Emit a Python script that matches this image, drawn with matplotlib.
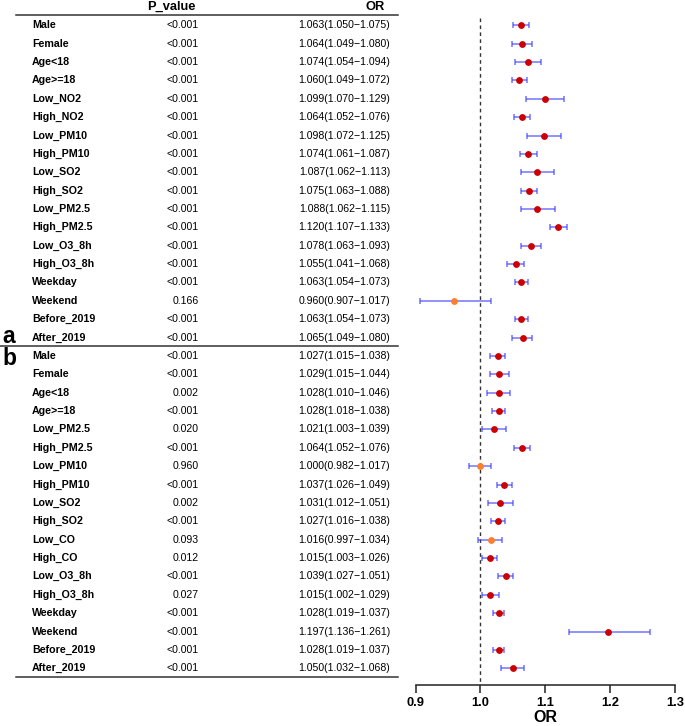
import matplotlib.pyplot as plt
from matplotlib.transforms import blended_transform_factory

plt.rcParams['font.family'] = ['Liberation Sans', 'DejaVu Sans']

# Panel a / panel b subgroups
labels_a = ["Male", "Female", "Age<18", "Age>=18", "Low_NO2", "High_NO2",
            "Low_PM10", "High_PM10", "Low_SO2", "High_SO2", "Low_PM2.5",
            "High_PM2.5", "Low_O3_8h", "High_O3_8h", "Weekday", "Weekend",
            "Before_2019", "After_2019"]
p_a = ["<0.001"] * 15 + ["0.166", "<0.001", "<0.001"]
or_a = [1.063, 1.064, 1.074, 1.060, 1.099, 1.064, 1.098, 1.074, 1.087,
        1.075, 1.088, 1.120, 1.078, 1.055, 1.063, 0.960, 1.063, 1.065]
lo_a = [1.050, 1.049, 1.054, 1.049, 1.070, 1.052, 1.072, 1.061, 1.062,
        1.063, 1.062, 1.107, 1.063, 1.041, 1.054, 0.907, 1.054, 1.049]
hi_a = [1.075, 1.080, 1.094, 1.072, 1.129, 1.076, 1.125, 1.087, 1.113,
        1.088, 1.115, 1.133, 1.093, 1.068, 1.073, 1.017, 1.073, 1.080]

labels_b = ["Male", "Female", "Age<18", "Age>=18", "Low_PM2.5", "High_PM2.5",
            "Low_PM10", "High_PM10", "Low_SO2", "High_SO2", "Low_CO",
            "High_CO", "Low_O3_8h", "High_O3_8h", "Weekday", "Weekend",
            "Before_2019", "After_2019"]
p_b = ["<0.001", "<0.001", "0.002", "<0.001", "0.020", "<0.001", "0.960",
       "<0.001", "0.002", "<0.001", "0.093", "0.012", "<0.001", "0.027",
       "<0.001", "<0.001", "<0.001", "<0.001"]
or_b = [1.027, 1.029, 1.028, 1.028, 1.021, 1.064, 1.000, 1.037, 1.031,
        1.027, 1.016, 1.015, 1.039, 1.015, 1.028, 1.197, 1.028, 1.050]
lo_b = [1.015, 1.015, 1.010, 1.018, 1.003, 1.052, 0.982, 1.026, 1.012,
        1.016, 0.997, 1.003, 1.027, 1.002, 1.019, 1.136, 1.019, 1.032]
hi_b = [1.038, 1.044, 1.046, 1.038, 1.039, 1.076, 1.017, 1.049, 1.051,
        1.038, 1.034, 1.026, 1.051, 1.029, 1.037, 1.261, 1.037, 1.068]

labels = labels_a + labels_b
pvals = p_a + p_b
ors = or_a + or_b
los = lo_a + lo_b
his = hi_a + hi_b
n = len(labels)

fig = plt.figure(figsize=(6.85, 7.26), dpi=100)
W, H = 685, 726
ax = fig.add_axes([415.5 / W, 1 - 685 / H, 259.5 / W, 685 / H])
ax.set_xlim(0.9, 1.3)
# row 0 at 25.3 px from top, 18.37 px per row
ax.set_ylim((685 - 25.3) / 18.37, -25.3 / 18.37)

for s in ["top", "right", "left"]:
    ax.spines[s].set_visible(False)
ax.spines["bottom"].set_linewidth(1.1)
ax.spines["bottom"].set_color("#222222")
ax.set_yticks([])
ax.set_xticks([0.9, 1.0, 1.1, 1.2, 1.3])
ax.set_xticklabels(["0.9", "1.0", "1.1", "1.2", "1.3"], fontsize=9.3, fontweight="bold")
ax.tick_params(axis="x", length=5.5, width=1.1, pad=3.5, color="#222222")
ax.set_xlabel("OR", fontsize=11.5, fontweight="bold", labelpad=0)

ax.plot([1.0, 1.0], [-0.38, 36], ls="--", color="#333333", lw=1, dashes=(2.6, 2.4))

for i in range(n):
    ns = not (pvals[i].startswith("<") or float(pvals[i]) < 0.05)
    ax.errorbar(ors[i], i, xerr=[[ors[i] - los[i]], [his[i] - ors[i]]],
                fmt="none", ecolor="#3a3aff", alpha=0.7, elinewidth=1.1,
                capsize=2.2, capthick=1.1)
    ax.plot(ors[i], i, "o", color="#ff7f2a" if ns else "#cc0000",
            markersize=3.9, zorder=3)

# Table on the left
tr = blended_transform_factory(fig.transFigure, ax.transData)
for i in range(n):
    ax.text(32 / W, i, labels[i], transform=tr, ha="left", va="center",
            fontsize=7.7, fontweight="bold", clip_on=False)
    ax.text(199 / W, i, pvals[i], transform=tr, ha="right", va="center",
            fontsize=7.6, clip_on=False)
    ax.text(390 / W, i, "%.3f(%.3f\u2212%.3f)" % (ors[i], los[i], his[i]),
            transform=tr, ha="right", va="center", fontsize=7.6, clip_on=False)

ax.text(196 / W, -1.0, "P_value", transform=tr, ha="right", va="center",
        fontsize=9.3, fontweight="bold", clip_on=False)
ax.text(385 / W, -1.0, "OR", transform=tr, ha="right", va="center",
        fontsize=9.3, fontweight="bold", clip_on=False)

ax.plot([16 / W, 398 / W], [-0.56, -0.56], transform=tr, color="#333333",
        lw=1.1, clip_on=False)
ax.plot([0, 398 / W], [17.47, 17.47], transform=tr, color="#333333",
        lw=1.1, clip_on=False)
ax.plot([16 / W, 398 / W], [35.47, 35.47], transform=tr, color="#333333",
        lw=1.1, clip_on=False)

ax.text(2 / W, 16.95, "a", transform=tr, ha="left", va="center",
        fontsize=16.5, fontweight="bold", clip_on=False)
ax.text(2 / W, 18.15, "b", transform=tr, ha="left", va="center",
        fontsize=16.5, fontweight="bold", clip_on=False)

fig.savefig("out.png", dpi=100)
